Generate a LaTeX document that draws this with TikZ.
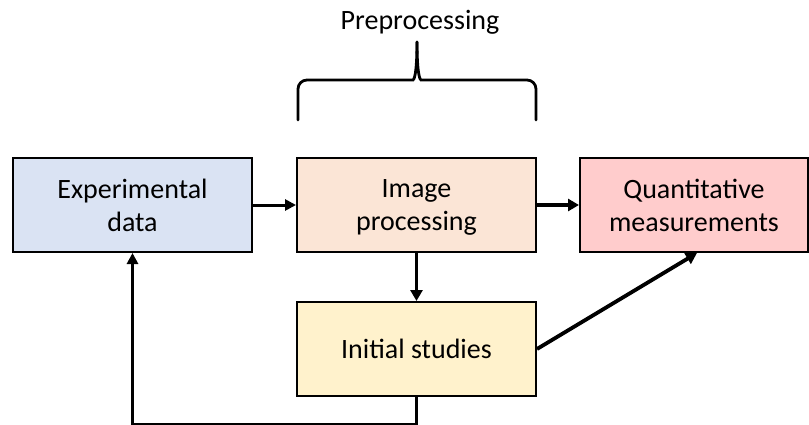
\documentclass[tikz,border=0pt]{standalone}
\usepackage{fontspec}
\setmainfont{Carlito}
\usetikzlibrary{arrows.meta,positioning}

\tikzset{
  stagebox/.style={draw=black, line width=2pt, minimum width=239pt, minimum height=94pt,
    align=center, font=\fontsize{28}{33}\selectfont, inner sep=0pt},
  flow/.style={line width=3pt, -{Triangle[length=11pt,width=11pt]}},
  bigflow/.style={line width=3.8pt, -{Triangle[length=11pt,width=12pt]}}
}
\definecolor{expblue}{HTML}{DAE3F3}
\definecolor{imgpeach}{HTML}{FBE5D6}
\definecolor{quantpink}{HTML}{FFCCCC}
\definecolor{inityellow}{HTML}{FFF2CC}

\begin{document}
\begin{tikzpicture}[x=1pt,y=-1pt]
\useasboundingbox (0,0) rectangle (809,425);
\node[stagebox, fill=expblue] (exp) at (132.5,205) {Experimental\\data};
\node[stagebox, fill=imgpeach] (img) at (416.5,205) {Image\\\smash{processing}};
\node[stagebox, fill=quantpink, minimum width=228pt] (quant) at (694,205) {Quantitative\\measurements};
\node[stagebox, fill=inityellow] (init) at (416.5,349) {Initial studies};
\node[font=\fontsize{28}{33}\selectfont] (prep) at (420,22) {Preprocessing};
% brace over image processing
\draw[line width=2.8pt, line cap=round, rounded corners=9pt] (298,120) -- (298,80) -- (404,80)
  .. controls (414,80) and (417,74) .. (417,42);
\draw[line width=2.8pt, line cap=round, rounded corners=9pt] (536,120) -- (536,80) -- (430,80)
  .. controls (420,80) and (417,74) .. (417,42);
\draw[flow] (exp) -- (img);
\draw[bigflow] (img) -- (quant);
\draw[bigflow] (img) -- (init);
\draw[bigflow] (init.east) -- ([xshift=3pt]quant.south);
\draw[flow] (init.south) -- ++(0,27) -| (exp.south);
\end{tikzpicture}
\end{document}
